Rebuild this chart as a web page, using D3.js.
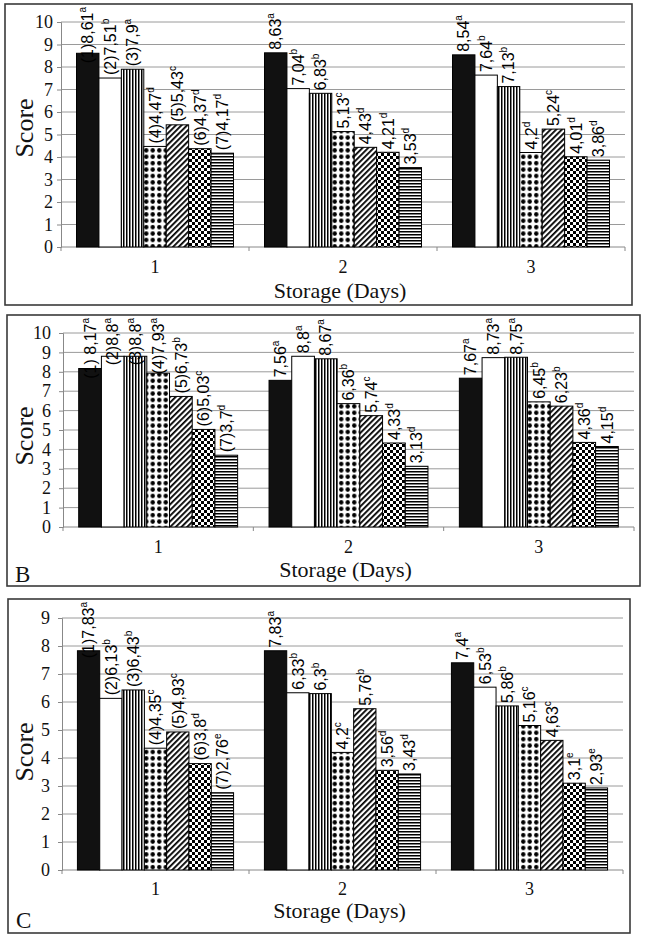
<!DOCTYPE html>
<html>
<head>
<meta charset="utf-8">
<script src="https://cdn.jsdelivr.net/npm/d3@7"></script>
<style>
  html, body { margin: 0; padding: 0; background: #fff; }
  svg { display: block; }
  .serif { font-family: "Liberation Serif", "Times New Roman", Times, serif; }
  .sans { font-family: "Liberation Sans", Arial, Helvetica, sans-serif; }
</style>
</head>
<body>
<svg id="chart" width="645" height="938"></svg>
<script>
// ---------- DATA ----------
const days = ["1", "2", "3"];
const treatments = ["1", "2", "3", "4", "5", "6", "7"];

const valuesA = [
  [8.61, 7.51, 7.9, 4.47, 5.43, 4.37, 4.17],
  [8.63, 7.04, 6.83, 5.13, 4.43, 4.21, 3.53],
  [8.54, 7.64, 7.13, 4.2, 5.24, 4.01, 3.86]
];
const lettersA = [
  ["a", "b", "a", "d", "c", "d", "d"],
  ["a", "b", "b", "c", "d", "d", "d"],
  ["a", "b", "b", "d", "c", "d", "d"]
];
const prefixA = ["(1)", "(2)", "(3)", "(4)", "(5)", "(6)", "(7)"];

const valuesB = [
  [8.17, 8.8, 8.8, 7.93, 6.73, 5.03, 3.7],
  [7.56, 8.8, 8.67, 6.36, 5.74, 4.33, 3.13],
  [7.67, 8.73, 8.75, 6.45, 6.23, 4.36, 4.15]
];
const lettersB = [
  ["a", "a", "a", "a", "b", "c", "d"],
  ["a", "a", "a", "b", "c", "d", "d"],
  ["a", "a", "a", "b", "b", "d", "d"]
];
const prefixB = ["(1) ", "(2)", "(3)", "(4)", "(5)", "(6)", "(7)"];

const valuesC = [
  [7.83, 6.13, 6.43, 4.35, 4.93, 3.8, 2.76],
  [7.83, 6.33, 6.3, 4.2, 5.76, 3.56, 3.43],
  [7.4, 6.53, 5.86, 5.16, 4.63, 3.1, 2.93]
];
const lettersC = [
  ["a", "b", "b", "c", "c", "d", "e"],
  ["a", "b", "b", "c", "b", "d", "d"],
  ["a", "b", "b", "c", "c", "e", "e"]
];
const prefixC = ["(1)", "(2)", "(3)", "(4)", "(5)", "(6)", "(7)"];

const ticksAB = [0, 1, 2, 3, 4, 5, 6, 7, 8, 9, 10];
const ticksC = [0, 1, 2, 3, 4, 5, 6, 7, 8, 9];

const yTitle = "Score";
const xTitle = "Storage (Days)";

// ---------- LAYOUT ----------
const panels = [
  { values: valuesA, letters: lettersA, prefix: prefixA, ticks: ticksAB, max: 10, tag: "",
    frame: [5, 4, 632, 305], plot: { x0: 61, x1: 625, yTop: 22, yBot: 247 }, scoreY: 128, tickGap: 4,
    catDy: 26, titleDy: 51 },
  { values: valuesB, letters: lettersB, prefix: prefixB, ticks: ticksAB, max: 10, tag: "B",
    frame: [7, 315, 640, 586], plot: { x0: 63, x1: 634, yTop: 333, yBot: 527 }, scoreY: 436, tickGap: 8, tagY: 582,
    catDy: 26, titleDy: 50 },
  { values: valuesC, letters: lettersC, prefix: prefixC, ticks: ticksC, max: 9, tag: "C",
    frame: [8, 599, 630, 933], plot: { x0: 62, x1: 623, yTop: 618, yBot: 870 }, scoreY: 752, tickGap: 8, tagY: 928,
    catDy: 25, titleDy: 48 }
];

const svg = d3.select("#chart");
svg.append("rect").attr("width", 645).attr("height", 938).attr("fill", "#fff");

// ---------- PATTERNS ----------
const defs = svg.append("defs");
function pat(id, w, h, build, transform) {
  const p = defs.append("pattern").attr("id", id).attr("patternUnits", "userSpaceOnUse")
    .attr("width", w).attr("height", h);
  if (transform) p.attr("patternTransform", transform);
  p.append("rect").attr("width", w).attr("height", h).attr("fill", "#fff");
  build(p);
}
pat("vlines", 3, 3, p => p.append("rect").attr("x", 0).attr("width", 1.5).attr("height", 3).attr("fill", "#000"));
pat("hlines", 3, 3, p => p.append("rect").attr("y", 0).attr("width", 3).attr("height", 1.5).attr("fill", "#000"));
pat("dots", 6.5, 6.4, p => p.append("circle").attr("cx", 3.25).attr("cy", 3.2).attr("r", 2.2).attr("fill", "#000"));
pat("diag", 4, 4, p => p.append("rect").attr("width", 1.8).attr("height", 4).attr("fill", "#000"), "rotate(45)");
pat("checker", 6, 6, p => {
  p.append("rect").attr("width", 3).attr("height", 3).attr("fill", "#000");
  p.append("rect").attr("x", 3).attr("y", 3).attr("width", 3).attr("height", 3).attr("fill", "#000");
});
const fills = ["#111", "#fff", "url(#vlines)", "url(#dots)", "url(#diag)", "url(#checker)", "url(#hlines)"];

const fmt = v => String(v).replace(".", ",");

// ---------- DRAW ----------
panels.forEach(P => {
  const g = svg.append("g");
  const [fx0, fy0, fx1, fy1] = P.frame;
  const { x0, x1, yTop, yBot } = P.plot;

  const y = d3.scaleLinear().domain([0, P.max]).range([yBot, yTop]);
  const x = d3.scaleBand().domain(days).range([x0, x1]).paddingInner(0.165).paddingOuter(0.0825);
  const xi = d3.scaleBand().domain(treatments).range([0, x.bandwidth()]);

  // frame
  g.append("rect").attr("x", fx0).attr("y", fy0).attr("width", fx1 - fx0).attr("height", fy1 - fy0)
    .attr("fill", "none").attr("stroke", "#3a3a3a").attr("stroke-width", 1.6);

  // gridlines
  g.append("g").selectAll("line").data(P.ticks.filter(t => t > 0)).join("line")
    .attr("x1", x0).attr("x2", x1).attr("y1", d => y(d)).attr("y2", d => y(d))
    .attr("stroke", "#9a9a9a").attr("stroke-width", 1);

  // y axis
  const ya = g.append("g").attr("transform", `translate(${x0},0)`)
    .call(d3.axisLeft(y).tickValues(P.ticks).tickSize(4).tickPadding(P.tickGap).tickFormat(d3.format("d")));
  ya.attr("font-family", null).attr("font-size", null);
  ya.select(".domain").attr("stroke", "#888").attr("stroke-width", 1);
  ya.selectAll(".tick line").attr("stroke", "#888");
  ya.selectAll(".tick text").attr("class", "serif").style("font-size", "18px").attr("fill", "#111");

  // x axis line + boundary ticks
  g.append("line").attr("x1", x0).attr("x2", x1).attr("y1", yBot).attr("y2", yBot)
    .attr("stroke", "#888").attr("stroke-width", 1);
  const bounds = d3.range(days.length + 1).map(i => x0 + i * (x1 - x0) / days.length);
  g.append("g").selectAll("line").data(bounds).join("line")
    .attr("x1", d => d).attr("x2", d => d).attr("y1", yBot).attr("y2", yBot + 4)
    .attr("stroke", "#888");

  // category labels
  g.append("g").selectAll("text").data(days).join("text")
    .attr("class", "serif")
    .attr("x", d => x(d) + x.bandwidth() / 2).attr("y", yBot + P.catDy)
    .attr("text-anchor", "middle").style("font-size", "18px").attr("fill", "#111")
    .text(d => d);

  // bars
  const flat = [];
  days.forEach((d, di) => treatments.forEach((t, ti) => flat.push({
    day: d, di, t, ti, v: P.values[di][ti], letter: P.letters[di][ti],
    label: (di === 0 ? P.prefix[ti] : "") + fmt(P.values[di][ti])
  })));

  g.append("g").selectAll("rect").data(flat).join("rect")
    .attr("x", d => x(d.day) + xi(d.t))
    .attr("y", d => y(d.v))
    .attr("width", xi.bandwidth())
    .attr("height", d => yBot - y(d.v))
    .attr("fill", d => fills[d.ti])
    .attr("stroke", "#000").attr("stroke-width", 1);

  // value labels (rotated)
  const lg = g.append("g");
  flat.forEach(d => {
    const cx = x(d.day) + xi(d.t) + xi.bandwidth() / 2;
    const t = lg.append("text").attr("class", "sans").style("font-size", "16px").attr("fill", "#000");
    t.append("tspan").text(d.label);
    t.append("tspan").style("font-size", "10px").attr("dy", -7).text(d.letter);
    const len = t.node().getComputedTextLength();
    let ys = y(d.v) - 3;
    const minStart = fy0 + 3 + len;
    if (ys < minStart) ys = minStart;
    t.attr("transform", `translate(${cx + 5.7},${ys}) rotate(-90)`);
  });

  // axis titles
  g.append("text").attr("class", "serif")
    .attr("transform", `translate(33,${P.scoreY}) rotate(-90)`)
    .attr("text-anchor", "middle").style("font-size", "26px").attr("fill", "#111")
    .text(yTitle);
  g.append("text").attr("class", "serif")
    .attr("x", (x0 + x1) / 2 - 3).attr("y", yBot + P.titleDy)
    .attr("text-anchor", "middle").style("font-size", "22px").attr("fill", "#111")
    .text(xTitle);

  if (P.tag) {
    g.append("text").attr("class", "serif").attr("x", fx0 + 8).attr("y", P.tagY)
      .style("font-size", "23px").attr("fill", "#111").text(P.tag);
  }
});
</script>
</body>
</html>
